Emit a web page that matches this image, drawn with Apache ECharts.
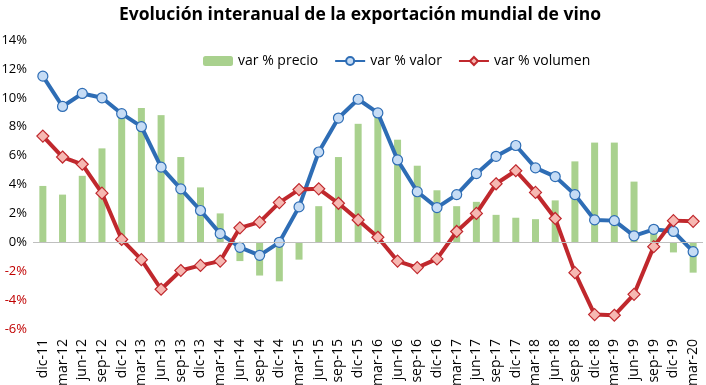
<!DOCTYPE html>
<html>
<head>
<meta charset="utf-8">
<script src="https://cdn.jsdelivr.net/npm/echarts@6/dist/echarts.min.js"></script>
<style>
html,body{margin:0;padding:0;background:#fff;}
#c{width:706px;height:385px;}
</style>
</head>
<body>
<div id="c"></div>
<script>
var categories = ['dic-11','mar-12','jun-12','sep-12','dic-12','mar-13','jun-13','sep-13','dic-13','mar-14','jun-14','sep-14','dic-14','mar-15','jun-15','sep-15','dic-15','mar-16','jun-16','sep-16','dic-16','mar-17','jun-17','sep-17','dic-17','mar-18','jun-18','sep-18','dic-18','mar-19','jun-19','sep-19','dic-19','mar-20'];
var precio = [3.9,3.3,4.6,6.5,8.7,9.3,8.8,5.9,3.8,2.0,-1.3,-2.3,-2.7,-1.2,2.5,5.9,8.2,8.7,7.1,5.3,3.6,2.5,2.8,1.9,1.7,1.6,2.9,5.6,6.9,6.9,4.2,0.6,-0.7,-2.1];
var valor = [11.5,9.4,10.3,10.0,8.9,8.0,5.2,3.7,2.2,0.6,-0.35,-0.9,0.0,2.45,6.25,8.6,9.9,8.95,5.7,3.5,2.4,3.3,4.75,5.95,6.7,5.15,4.55,3.3,1.55,1.5,0.45,0.9,0.75,-0.65];
var volumen = [7.35,5.9,5.4,3.4,0.2,-1.2,-3.25,-1.95,-1.6,-1.3,1.0,1.4,2.75,3.65,3.7,2.7,1.55,0.35,-1.3,-1.75,-1.15,0.75,2.0,4.05,4.95,3.45,1.65,-2.1,-5.0,-5.05,-3.6,-0.3,1.5,1.45];

var FONT = 'Open Sans';
var chart = echarts.init(document.getElementById('c'));
chart.setOption({
  animation: false,
  backgroundColor: '#fff',
  textStyle: {fontFamily: FONT},
  title: {
    text: 'Evolución interanual de la exportación mundial de vino',
    left: 355, top: 1, textAlign: 'center',
    textStyle: {fontFamily: FONT, fontSize: 17.5, fontWeight: 'bold', color: '#000'}
  },
  legend: {
    left: 198, top: 49,
    itemWidth: 30, itemHeight: 10, itemGap: 16,
    textStyle: {fontFamily: FONT, fontSize: 14, color: '#000'},
    data: ['var % precio','var % valor','var % volumen']
  },
  grid: {left: 33, right: 3, top: 40, bottom: 56, containLabel: false, outerBoundsMode: 'none'},
  xAxis: {
    type: 'category', data: categories,
    axisLine: {show: false}, axisTick: {show: false},
    axisLabel: {rotate: 90, margin: 10, fontSize: 14, color: '#000', fontFamily: FONT, interval: 0}
  },
  yAxis: {
    type: 'value', min: -6, max: 14, interval: 2,
    splitLine: {show: false}, axisLine: {show: false}, axisTick: {show: false},
    axisLabel: {
      margin: 6, fontSize: 13, fontFamily: FONT,
      formatter: function(v){ return v + '%'; },
      color: function(v){ return v < 0 ? '#c00000' : '#000'; }
    }
  },
  series: [
    {
      name: 'var % precio', type: 'bar', data: precio, barWidth: 7,
      itemStyle: {color: '#a9d18e'},
      markLine: {silent: true, symbol: 'none', label: {show: false},
        lineStyle: {color: '#bfbfbf', width: 1, type: 'solid'},
        data: [{yAxis: 0}]}
    },
    {
      name: 'var % valor', type: 'line', data: valor,
      symbol: 'circle', symbolSize: 10,
      lineStyle: {color: '#2e6db5', width: 4},
      itemStyle: {color: '#c6dcf5', borderColor: '#2e6db5', borderWidth: 1.2}
    },
    {
      name: 'var % volumen', type: 'line', data: volumen,
      symbol: 'diamond', symbolSize: 12,
      lineStyle: {color: '#c0282d', width: 4},
      itemStyle: {color: '#f6b8b2', borderColor: '#c0282d', borderWidth: 1.2}
    }
  ]
});
</script>
</body>
</html>
